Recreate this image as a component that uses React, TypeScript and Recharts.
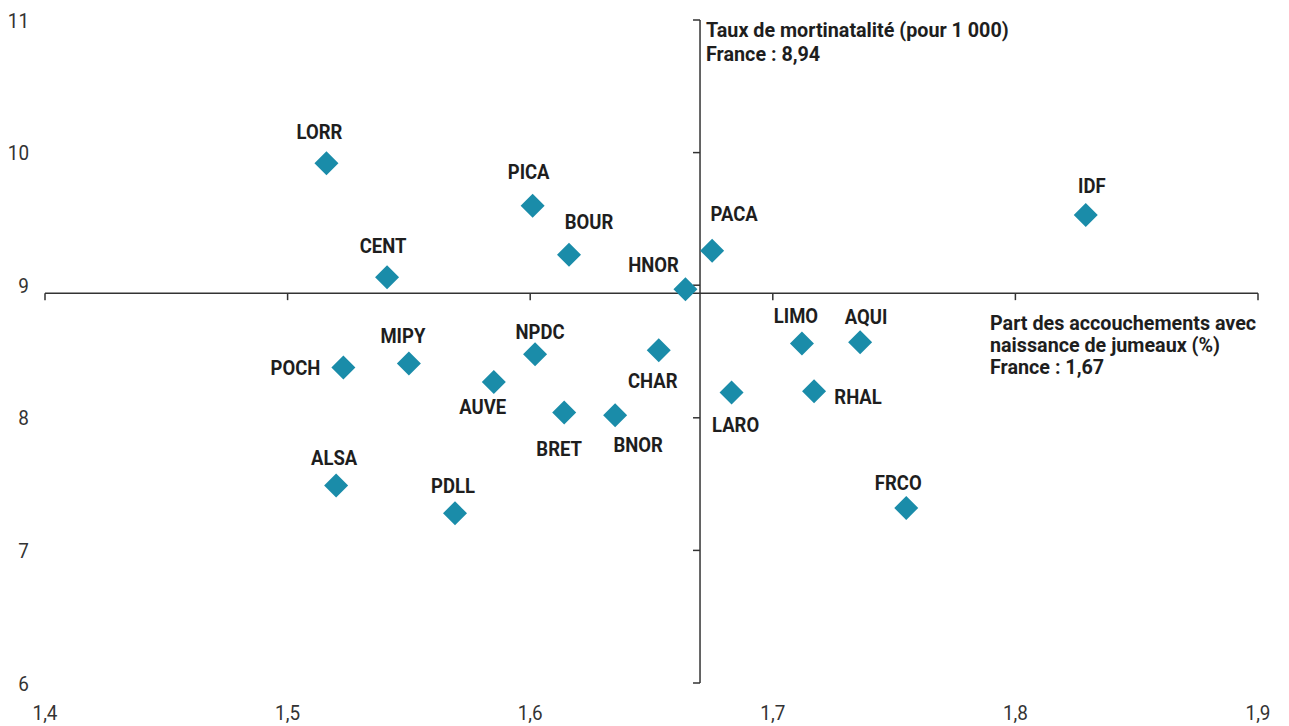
import React from 'react';
import { ScatterChart, Scatter, XAxis, YAxis, ReferenceLine } from 'recharts';

// Regions (codes)
const regions = ['LORR', 'PICA', 'BOUR', 'CENT', 'PACA', 'HNOR', 'IDF', 'POCH', 'MIPY', 'NPDC', 'CHAR', 'AUVE', 'BRET', 'BNOR', 'LIMO', 'AQUI', 'LARO', 'RHAL', 'ALSA', 'PDLL', 'FRCO'];
// Part des accouchements avec naissance de jumeaux (%)
const twinShare = [1.516, 1.601, 1.616, 1.541, 1.675, 1.664, 1.829, 1.523, 1.550, 1.602, 1.653, 1.585, 1.614, 1.635, 1.712, 1.736, 1.683, 1.717, 1.520, 1.569, 1.755];
// Taux de mortinatalité (pour 1 000)
const stillbirthRate = [9.92, 9.60, 9.23, 9.06, 9.26, 8.97, 9.53, 8.38, 8.41, 8.48, 8.51, 8.27, 8.04, 8.02, 8.56, 8.57, 8.19, 8.20, 7.49, 7.28, 7.32];

const xTicks = [1.4, 1.5, 1.6, 1.7, 1.8, 1.9];
const yTicks = [6, 7, 8, 9, 10, 11];
const franceTwin = 1.67;
const franceStill = 8.94;

// label placement relative to marker (pixels)
const labelOffsets: Record<string, [number, number]> = {
  LORR: [-7, -32], PICA: [-4, -34], BOUR: [20, -33], CENT: [-4, -32], PACA: [22, -37],
  HNOR: [-32, -25], IDF: [6, -29], POCH: [-48, 0], MIPY: [-6, -28], NPDC: [5, -23],
  CHAR: [-6, 30], AUVE: [-11, 25], BRET: [-5, 36], BNOR: [23, 29], LIMO: [-6, -28],
  AQUI: [6, -26], LARO: [4, 32], RHAL: [44, 5], ALSA: [-2, -28], PDLL: [-2, -28], FRCO: [-8, -25],
};

const data = regions.map((name, i) => ({ name, x: twinShare[i], y: stillbirthRate[i] }));

const FONT = 'Roboto, "Liberation Sans", sans-serif';
const AXIS_COLOR = '#333';
const MARK_COLOR = '#1a8ca9';
const TEXT_COLOR = '#1e1e1e';
const SQ = 0.88; // horizontal condensation for bold labels
const SQA = 0.94; // horizontal condensation for annotations
const SQT = 0.9; // horizontal condensation for tick labels

const fmtX = (v: number) => v.toFixed(1).replace('.', ',');

const Diamond = (props: any) => {
  const { cx, cy, payload } = props;
  const r = 12;
  const off = labelOffsets[payload.name] || [0, -28];
  const tx = cx + off[0];
  const ty = cy + off[1] + 7.5;
  return (
    <g>
      <path d={`M${cx},${cy - r}L${cx + r},${cy}L${cx},${cy + r}L${cx - r},${cy}Z`} fill={MARK_COLOR} />
      <text
        transform={`translate(${tx},${ty}) scale(${SQ},1)`}
        x={0}
        y={0}
        textAnchor="middle"
        fontFamily={FONT}
        fontWeight="bold"
        fontSize={21}
        fill={TEXT_COLOR}
      >
        {payload.name}
      </text>
    </g>
  );
};

const XTick = (props: any) => {
  const { x, y, payload } = props;
  return (
    <text transform={`translate(${x},${y + 14}) scale(${SQT},1)`} x={0} y={0} textAnchor="middle" fontFamily={FONT} fontSize={21} fill="#333">
      {fmtX(payload.value)}
    </text>
  );
};

const YTick = (props: any) => {
  const { x, y, payload } = props;
  return (
    <text transform={`translate(${x},${y + 7.5}) scale(${SQT},1)`} x={0} y={0} textAnchor="end" fontFamily={FONT} fontSize={21} fill="#333">
      {String(payload.value)}
    </text>
  );
};

const tickLenX = 7 / 2426;
const tickLenY = 7 / 132.6;

const VertLabel = (props: any) => {
  const vb = props.viewBox || {};
  const x = (vb.x ?? 0) + 6;
  const y = vb.y ?? 0;
  return (
    <g transform={`translate(${x},${y}) scale(${SQA},1)`}>
      <text x={0} y={0} fontFamily={FONT} fontWeight="bold" fontSize={21} fill={TEXT_COLOR}>
        <tspan x={0} y={17}>Taux de mortinatalité (pour 1 000)</tspan>
        <tspan x={0} y={41}>France : 8,94</tspan>
      </text>
    </g>
  );
};

const HorizLabel = (props: any) => {
  const vb = props.viewBox || {};
  const x = (vb.x ?? 0) + (vb.width ?? 0) - 268;
  const y = vb.y ?? 0;
  return (
    <g transform={`translate(${x},${y}) scale(${SQA},1)`}>
      <text x={0} y={0} fontFamily={FONT} fontWeight="bold" fontSize={21} fill={TEXT_COLOR}>
        <tspan x={0} y={37}>Part des accouchements avec</tspan>
        <tspan x={0} y={59}>naissance de jumeaux (%)</tspan>
        <tspan x={0} y={81}>France : 1,67</tspan>
      </text>
    </g>
  );
};

export default function App() {
  return (
    <div style={{ position: 'absolute', left: 0, top: 0, background: '#fff' }}>
      <ScatterChart width={1289} height={726} margin={{ top: 20, right: 31, bottom: 0, left: 0 }}>
        <XAxis
          type="number"
          dataKey="x"
          domain={[1.4, 1.9]}
          ticks={xTicks}
          axisLine={false}
          tickLine={false}
          tickSize={0}
          tickMargin={23}
          height={43}
          interval={0}
          tick={<XTick />}
        />
        <YAxis
          type="number"
          dataKey="y"
          domain={[6, 11]}
          ticks={yTicks}
          axisLine={false}
          tickLine={false}
          tickSize={0}
          tickMargin={16}
          width={45}
          interval={0}
          tick={<YTick />}
        />
        <ReferenceLine y={franceStill} stroke={AXIS_COLOR} strokeWidth={1.5} label={<HorizLabel />} />
        <ReferenceLine x={franceTwin} stroke={AXIS_COLOR} strokeWidth={1.5} label={<VertLabel />} />
        {xTicks.map((t) => (
          <ReferenceLine
            key={'xt' + t}
            segment={[{ x: t, y: franceStill }, { x: t, y: franceStill - tickLenY }]}
            stroke={AXIS_COLOR}
            strokeWidth={1.5}
          />
        ))}
        {yTicks.map((t) => (
          <ReferenceLine
            key={'yt' + t}
            segment={[{ x: franceTwin - tickLenX, y: t }, { x: franceTwin, y: t }]}
            stroke={AXIS_COLOR}
            strokeWidth={1.5}
          />
        ))}
        <Scatter data={data} shape={<Diamond />} isAnimationActive={false} />
      </ScatterChart>
    </div>
  );
}
